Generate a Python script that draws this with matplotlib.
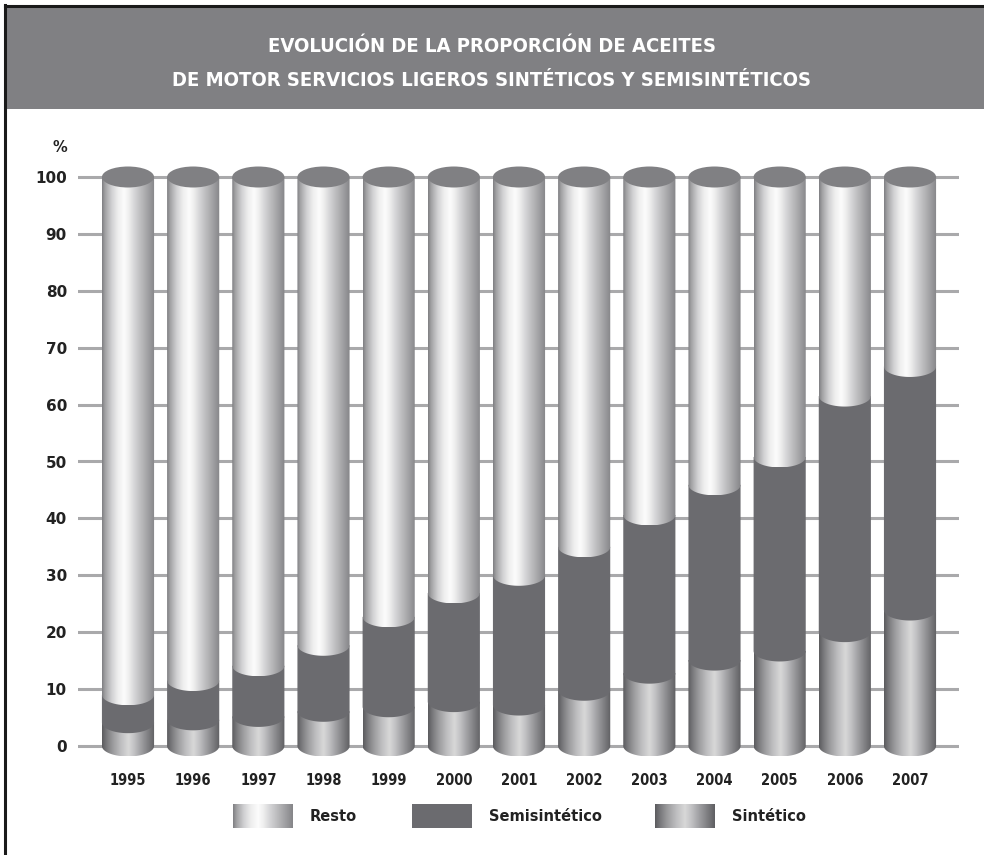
import numpy as np
import matplotlib
matplotlib.use('Agg')
import matplotlib.pyplot as plt
from matplotlib.path import Path
from matplotlib.patches import PathPatch, Ellipse, Rectangle
from matplotlib.colors import LinearSegmentedColormap
from matplotlib.lines import Line2D

# data (%)
years = ['1995', '1996', '1997', '1998', '1999', '2000', '2001',
         '2002', '2003', '2004', '2005', '2006', '2007']
sintetico = [4.1, 4.6, 5.2, 6.1, 6.9, 7.8, 7.2, 9.8, 12.8, 15.1, 16.7, 20.1, 23.9]
semisintetico = [4.9, 6.9, 8.9, 11.6, 15.8, 19.1, 22.8, 25.2, 27.8, 30.8, 34.1, 41.4, 42.8]
resto = [100 - a - b for a, b in zip(sintetico, semisintetico)]
yticks = [0, 10, 20, 30, 40, 50, 60, 70, 80, 90, 100]
legend_labels = ['Resto', 'Semisintético', 'Sintético']

W, H = 984, 855
fig = plt.figure(figsize=(W / 100, H / 100), dpi=100)
fig.patch.set_facecolor('white')

narrow = ['Liberation Sans Narrow', 'DejaVu Sans']


def fx(px):
    return px / W


def fy(py):
    return 1 - py / H


# frame + title band
fig.add_artist(Rectangle((fx(6), fy(109)), 1 - fx(6), fy(8) - fy(109),
                         transform=fig.transFigure, facecolor='#808083',
                         edgecolor='none', zorder=0))
fig.add_artist(Line2D([fx(5), fx(5)], [0, fy(5)], transform=fig.transFigure,
                      color='#1a1a1a', lw=2.2))
fig.add_artist(Line2D([fx(5), 1], [fy(6), fy(6)], transform=fig.transFigure,
                      color='#1a1a1a', lw=2.2))
fig.text(0.5, fy(46), 'EVOLUCIÓN DE LA PROPORCIÓN DE ACEITES', ha='center', va='center',
         color='white', fontsize=14.5, fontweight='bold', family=narrow, fontstretch='condensed')
fig.text(0.5, fy(80), 'DE MOTOR SERVICIOS LIGEROS SINTÉTICOS Y SEMISINTÉTICOS', ha='center',
         va='center', color='white', fontsize=14.5, fontweight='bold', family=narrow,
         fontstretch='condensed')

# gradients for the cylinders
cm_resto = LinearSegmentedColormap.from_list('resto', [
    (0.0, '#7f7f82'), (0.06, '#a2a2a4'), (0.18, '#d0d0d2'), (0.3, '#eeeeee'),
    (0.42, '#fcfcfc'), (0.5, '#f0f0f0'), (0.62, '#d4d4d6'), (0.78, '#b3b3b5'),
    (0.9, '#9a9a9d'), (1.0, '#858588')])
cm_sint = LinearSegmentedColormap.from_list('sint', [
    (0.0, '#5b5b5e'), (0.08, '#77777a'), (0.2, '#9a9a9c'), (0.35, '#bdbdbf'),
    (0.5, '#d8d8d8'), (0.6, '#c4c4c6'), (0.75, '#9d9da0'), (0.9, '#78787b'),
    (1.0, '#5f5f62')])
semi_color = '#6b6b6f'
cap_color = '#808083'
grad = np.linspace(0, 1, 256)[np.newaxis, :]

# axes: 0 -> y px 746, 100 -> y px 177, x from 78 to 959 px
ppu = (746 - 177) / 100.0
ax_top, ax_bot = 140, 770
ax = fig.add_axes([fx(78), fy(ax_bot), (959 - 78) / W, (ax_bot - ax_top) / H])
ylo = -(ax_bot - 746) / ppu
yhi = (746 - ax_top) / ppu
step = 65.17
xlo = -(128 - 78) / step
xhi = 12 + (959 - 910) / step

bw = 0.8
eh = 10.5 / ppu  # half height of the ellipses in data units
x = np.arange(len(years))


def seg_path(c, y0, y1):
    x0, x1 = c - bw / 2, c + bw / 2
    t = np.linspace(np.pi, 2 * np.pi, 60)
    pts = [(x0, y1), (x0, y0)]
    pts += list(zip(c + bw / 2 * np.cos(t), y0 + eh * np.sin(t)))
    pts += [(x1, y0), (x1, y1), (x0, y1)]
    codes = [Path.MOVETO] + [Path.LINETO] * (len(pts) - 2) + [Path.CLOSEPOLY]
    return Path(pts, codes)


def draw_seg(c, y0, y1, fill, z):
    p = PathPatch(seg_path(c, y0, y1), facecolor=fill if isinstance(fill, str) else 'none',
                  edgecolor='none', zorder=z)
    ax.add_patch(p)
    if not isinstance(fill, str):
        im = ax.imshow(grad, extent=[c - bw / 2, c + bw / 2, y0 - eh, y1], aspect='auto',
                       cmap=fill, interpolation='bilinear', zorder=z)
        im.set_clip_path(p)


for i in range(len(years)):
    s = sintetico[i]
    t = s + semisintetico[i]
    draw_seg(x[i], 0, s, cm_sint, 2)
    draw_seg(x[i], s, t, semi_color, 3)
    draw_seg(x[i], t, t + resto[i], cm_resto, 4)
    ax.add_patch(Ellipse((x[i], t + resto[i]), bw, 2 * eh, facecolor=cap_color,
                         edgecolor='none', zorder=5))

ax.set_xlim(xlo, xhi)
ax.set_ylim(ylo, yhi)
for sp in ax.spines.values():
    sp.set_visible(False)
ax.set_facecolor('none')
ax.set_yticks(yticks)
ax.set_yticklabels([str(v) for v in yticks], fontsize=11, fontweight='bold', color='#222222')
ax.tick_params(axis='y', length=0, pad=8)
ax.set_xticks(x)
ax.set_xticklabels(years, fontsize=10.5, fontweight='bold', color='#222222', family=narrow,
                   fontstretch='condensed')
ax.tick_params(axis='x', length=0, pad=2)
ax.yaxis.grid(True, color='#a9a9ab', lw=2.2, zorder=0)
ax.set_axisbelow(True)

fig.text(fx(60), fy(147), '%', ha='center', va='center', fontsize=10.5,
         fontweight='bold', color='#222222')

# legend
swatches = [(233, cm_resto), (412, semi_color), (655, cm_sint)]
for (sx, fill), lab in zip(swatches, legend_labels):
    lax = fig.add_axes([fx(sx), fy(828), 60 / W, 24 / H])
    lax.set_axis_off()
    if isinstance(fill, str):
        lax.add_patch(Rectangle((0, 0), 1, 1, facecolor=fill, edgecolor='none'))
        lax.set_xlim(0, 1)
        lax.set_ylim(0, 1)
    else:
        lax.imshow(grad, extent=[0, 1, 0, 1], aspect='auto', cmap=fill,
                   interpolation='bilinear')
    fig.text(fx(sx + 77), fy(816), lab, ha='left', va='center', fontsize=10.5,
             fontweight='bold', color='#222222')

fig.savefig('out.png', dpi=100)
